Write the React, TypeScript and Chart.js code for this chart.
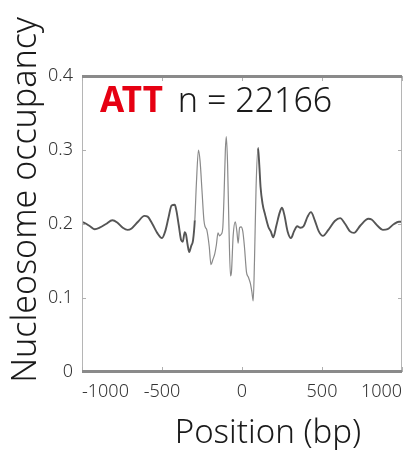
import React, { useEffect, useRef } from "react";
import { Chart, registerables } from "chart.js";

Chart.register(...registerables);

// Position (bp) and nucleosome occupancy
const POSITIONS = [
  -1000, -980, -950, -920, -890, -850, -810, -780, -745, -715, -690, -650, -610, -590, -560, -530,
  -500, -480, -460, -440, -420, -410, -395, -380, -370, -358, -350, -340, -330, -318, -306, -295,
  -285, -272, -262, -250, -238, -230, -220, -205, -194, -182, -170, -160, -150, -140, -130, -120,
  -112, -104, -98, -90, -82, -72, -66, -55, -42, -32, -24, -15, -6, 5, 15, 28, 40, 52, 62, 70,
  78, 88, 100, 108, 116, 128, 145, 165, 180, 195, 215, 235, 250, 265, 285, 306, 325, 345, 365,
  385, 410, 431, 455, 480, 506, 540, 580, 613, 645, 675, 700, 740, 790, 810, 850, 880, 910, 950,
  980, 1000,
];
const OCCUPANCY = [
  0.203, 0.201, 0.197, 0.193, 0.195, 0.2, 0.205, 0.202, 0.195, 0.192, 0.194, 0.203, 0.211, 0.21,
  0.2, 0.188, 0.181, 0.19, 0.208, 0.225, 0.226, 0.218, 0.198, 0.178, 0.176, 0.189, 0.186, 0.172,
  0.162, 0.17, 0.178, 0.205, 0.255, 0.3, 0.285, 0.245, 0.205, 0.196, 0.192, 0.17, 0.145, 0.152,
  0.16, 0.172, 0.188, 0.184, 0.186, 0.195, 0.24, 0.3, 0.318, 0.28, 0.2, 0.13, 0.135, 0.185, 0.203,
  0.19, 0.174, 0.195, 0.196, 0.19, 0.17, 0.135, 0.128, 0.12, 0.108, 0.096, 0.15, 0.25, 0.303,
  0.28, 0.25, 0.228, 0.212, 0.196, 0.19, 0.182, 0.198, 0.215, 0.222, 0.212, 0.19, 0.181, 0.19,
  0.197, 0.195, 0.197, 0.21, 0.216, 0.205, 0.19, 0.184, 0.192, 0.204, 0.208, 0.2, 0.19, 0.188,
  0.198, 0.207, 0.206, 0.197, 0.192, 0.193, 0.2, 0.203, 0.203,
];
const X_TICKS = [-1000, -500, 0, 500, 1000];
const Y_TICKS = [0, 0.1, 0.2, 0.3, 0.4];
const X_TITLE = "Position (bp)";
const Y_TITLE = "Nucleosome occupancy";
const MARK_LABEL = "ATT";
const COUNT_LABEL = "n = 22166";

const FONT = "'Noto Sans', 'Noto Sans CJK JP', sans-serif";

const framePlugin = {
  id: "frame",
  afterDraw(chart: any) {
    const { ctx, chartArea } = chart;
    const { left, right, top, bottom } = chartArea;
    const xs = chart.scales.x;
    const ys = chart.scales.y;
    ctx.save();
    // left / right thin borders
    ctx.strokeStyle = "#b5b5b5";
    ctx.lineWidth = 1;
    ctx.beginPath();
    ctx.moveTo(left + 0.5, top);
    ctx.lineTo(left + 0.5, bottom);
    ctx.moveTo(right - 0.5, top);
    ctx.lineTo(right - 0.5, bottom);
    ctx.stroke();
    // inner tick marks
    ctx.strokeStyle = "#b0b0b0";
    ctx.beginPath();
    X_TICKS.forEach((v) => {
      const px = Math.round(xs.getPixelForValue(v)) + 0.5;
      ctx.moveTo(px, top);
      ctx.lineTo(px, top + 5);
      ctx.moveTo(px, bottom);
      ctx.lineTo(px, bottom - 5);
    });
    Y_TICKS.forEach((v) => {
      const py = Math.round(ys.getPixelForValue(v)) + 0.5;
      ctx.moveTo(left, py);
      ctx.lineTo(left + 4, py);
      ctx.moveTo(right, py);
      ctx.lineTo(right - 4, py);
    });
    ctx.stroke();
    // thick top / bottom borders
    ctx.strokeStyle = "#8a8a8a";
    ctx.lineWidth = 3;
    ctx.beginPath();
    ctx.moveTo(left, top + 0.5);
    ctx.lineTo(right, top + 0.5);
    ctx.moveTo(left, bottom - 0.5);
    ctx.lineTo(right, bottom - 0.5);
    ctx.stroke();

    // annotation
    ctx.textBaseline = "alphabetic";
    ctx.textAlign = "left";
    ctx.fillStyle = "#e60012";
    ctx.font = `bold 35px ${FONT}`;
    const ax = left + 18;
    const ay = top + 36;
    ctx.fillText(MARK_LABEL, ax, ay);
    const w = ctx.measureText(MARK_LABEL).width;
    ctx.fillStyle = "#1a1a1a";
    ctx.font = `300 34px ${FONT}`;
    ctx.fillText(COUNT_LABEL, ax + w + 15, ay);

    // axis titles
    ctx.fillStyle = "#1a1a1a";
    ctx.font = `300 33px ${FONT}`;
    ctx.textAlign = "center";
    ctx.fillText(X_TITLE, (left + right) / 2 + 26, bottom + 71);
    ctx.save();
    ctx.translate(left - 46, (top + bottom) / 2 - 24);
    ctx.rotate(-Math.PI / 2);
    ctx.font = `300 34px ${FONT}`;
    ctx.fillText(Y_TITLE, 0, 0);
    ctx.restore();
    ctx.restore();
  },
};

const INNER = (x: number) => x > -300 && x < 105;

export default function App() {
  const ref = useRef<HTMLCanvasElement | null>(null);
  useEffect(() => {
    if (!ref.current) return;
    const chart = new Chart(ref.current, {
      type: "line",
      data: {
        datasets: [
          {
            data: POSITIONS.map((x, i) => ({ x, y: OCCUPANCY[i] })),
            borderColor: "#4f4f4f",
            borderWidth: 1.8,
            pointRadius: 0,
            cubicInterpolationMode: "monotone",
            segment: {
              borderColor: (c: any) =>
                INNER(c.p0.parsed.x) && INNER(c.p1.parsed.x) ? "#8a8a8a" : "#555",
              borderWidth: (c: any) =>
                INNER(c.p0.parsed.x) && INNER(c.p1.parsed.x) ? 1.2 : 1.9,
            },
          },
        ],
      },
      options: {
        responsive: false,
        animation: false,
        layout: { padding: { top: 76, right: 12, left: 0, bottom: 0 } },
        plugins: { legend: { display: false }, tooltip: { enabled: false } },
        scales: {
          x: {
            type: "linear",
            min: -1000,
            max: 1000,
            afterBuildTicks: (s: any) => {
              s.ticks = X_TICKS.map((value) => ({ value }));
            },
            afterFit: (s: any) => {
              s.height = 78;
            },
            ticks: {
              align: "inner",
              maxRotation: 0,
              padding: 9,
              color: "#333",
              font: { family: FONT, size: 18, weight: "300" },
              callback: (v: any) => String(v),
            },
            grid: { display: false, drawTicks: false },
            border: { display: false },
          },
          y: {
            type: "linear",
            min: 0,
            max: 0.4,
            afterBuildTicks: (s: any) => {
              s.ticks = Y_TICKS.map((value) => ({ value }));
            },
            afterFit: (s: any) => {
              s.width = 82;
            },
            ticks: {
              padding: 9,
              color: "#333",
              font: { family: FONT, size: 18, weight: "300" },
              callback: (v: any) => (v === 0 ? "0" : Number(v).toFixed(1)),
            },
            grid: { display: false, drawTicks: false },
            border: { display: false },
          },
        },
      },
      plugins: [framePlugin],
    });
    return () => chart.destroy();
  }, []);
  return (
    <div style={{ position: "absolute", left: 0, top: 0, width: 414, height: 450, background: "#fff" }}>
      <canvas ref={ref} width={414} height={450} style={{ display: "block" }} />
    </div>
  );
}
